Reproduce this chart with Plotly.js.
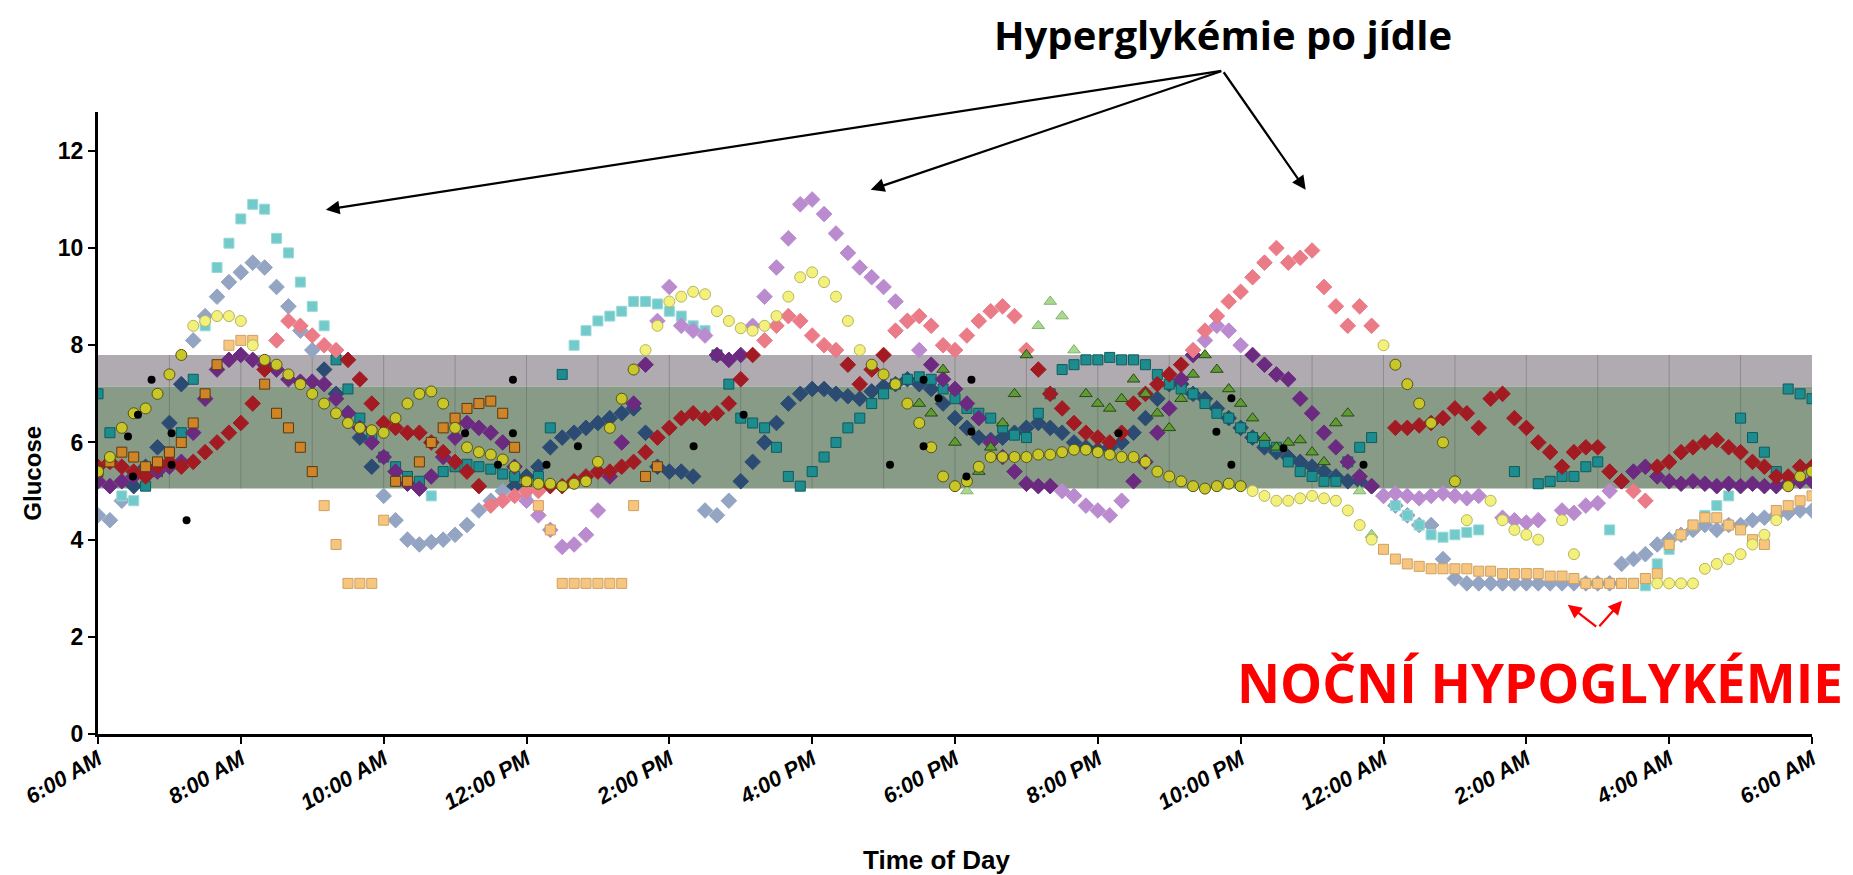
<!DOCTYPE html>
<html>
<head>
<meta charset="utf-8">
<script src="https://cdn.plot.ly/plotly-3.0.1.min.js"></script>
<style>html,body{margin:0;padding:0;background:#fff;}#chart{width:1853px;height:875px;}</style>
</head>
<body>
<div id="chart"></div>
<script>
// ---------- DATA (glucose, mmol/l; one reading every 10 min from 6:00 AM to 6:00 AM) ----------
const tickHours = [6, 8, 10, 12, 14, 16, 18, 20, 22, 24, 26, 28, 30];
const tickLabels = ['6:00 AM','8:00 AM','10:00 AM','12:00 PM','2:00 PM','4:00 PM','6:00 PM','8:00 PM','10:00 PM','12:00 AM','2:00 AM','4:00 AM','6:00 AM'];
const yTicks = [0, 2, 4, 6, 8, 10, 12];
const targetLow = 5.05, targetMid = 7.15, targetHigh = 7.8;

const redDay = [
 5.5,5.6,5.5,5.4,5.3,5.5,  5.6,5.5,5.6,5.8,6.0,6.2,  6.4,6.8,7.5,8.1,8.5,8.4,  8.2,8.0,7.9,7.7,7.3,6.8,
 6.4,6.3,6.2,6.2,6.0,5.8,  5.6,5.4,5.1,4.7,4.8,4.9,  5.0,5.0,5.1,5.1,5.2,5.3,  5.4,5.4,5.5,5.6,5.8,6.1,
 6.3,6.5,6.6,6.5,6.6,6.8,  7.3,7.8,8.1,8.4,8.6,8.5,  8.2,8.0,7.9,7.6,7.2,7.5,  7.8,8.3,8.5,8.6,8.4,8.0,
 7.9,8.2,8.5,8.7,8.8,8.6,  7.9,7.5,7.0,6.7,6.4,6.2,  6.1,6.0,6.2,6.8,7.0,7.2,  7.4,7.6,7.9,8.3,8.6,8.9,
 9.1,9.4,9.7,10.0,9.7,9.8, 9.95,9.2,8.8,8.4,8.8,8.4, null,6.3,6.3,6.35,6.4,6.5, 6.7,6.6,6.3,6.9,7.0,6.5,
 6.3,6.0,5.8,5.5,5.8,5.9,  5.9,5.4,5.2,5.0,4.8,5.5,  5.6,5.8,5.9,6.0,6.05,5.9, 5.8,5.6,5.5,5.3,5.3,5.5,
 5.5];

const purpleDay = [
 5.2,5.1,5.2,5.3,5.4,5.4,  5.5,5.6,6.2,6.9,7.5,7.7,  7.8,7.7,7.6,7.5,7.3,7.25, 7.25,7.2,6.9,6.6,6.3,6.0,
 5.7,5.4,5.15,5.05,5.3,5.7, 6.1,6.4,6.3,6.2,6.0,5.5, 4.8,4.5,4.2,3.85,3.9,4.1, 4.6,5.3,6.0,6.8,7.6,8.5,
 9.2,8.4,8.3,8.2,7.8,7.7,  7.8,8.4,9.0,9.6,10.2,10.9, 11.0,10.7,10.3,9.9,9.6,9.4, 9.2,8.9,8.5,7.9,7.6,7.3,
 7.1,6.8,6.5,6.0,5.7,5.4,  5.15,5.1,5.1,5.0,4.9,4.7, 4.6,4.5,4.8,5.2,5.6,6.2, 6.7,7.3,7.8,8.1,8.4,8.3,
 8.0,7.8,7.6,7.4,7.3,6.9,  6.6,6.2,5.9,5.6,5.3,5.1,  4.9,4.95,4.9,4.85,4.9,4.95, 4.9,4.85,4.9,null,4.45,4.4,
 4.35,4.4,null,4.6,4.55,4.7, 4.75,5.0,5.2,5.4,5.5,5.3, 5.2,5.15,5.2,5.15,5.1,5.15, 5.1,5.15,5.1,5.1,5.15,5.2,
 5.2];

const navyDay = [
 4.5,4.4,4.8,5.1,5.5,5.9,  6.4,7.2,8.1,8.6,9.0,9.3,  9.5,9.7,9.6,9.2,8.8,8.3,  7.9,7.5,7.0,6.6,6.1,5.5,
 4.9,4.4,4.0,3.9,3.95,4.0, 4.1,4.3,4.6,4.8,5.0,5.1,  5.3,5.5,5.9,6.1,6.2,6.3,  6.4,6.5,6.6,6.7,6.2,5.5,
 5.4,5.4,5.3,4.6,4.5,4.8,  5.2,5.6,6.0,6.4,6.8,7.0,  7.1,7.1,7.0,6.95,6.9,7.05, 7.15,7.2,7.3,7.2,7.1,6.8,
 6.5,6.3,6.1,6.05,6.1,6.2, 6.3,6.4,6.3,6.2,6.0,5.9,  5.85,5.9,6.0,6.2,6.5,6.9, 7.2,7.2,7.0,6.9,6.7,6.5,
 6.3,6.1,5.9,5.8,5.7,5.6,  5.5,5.4,5.3,5.2,5.2,5.1,  4.9,4.7,4.5,4.3,4.3,3.6,  3.2,3.1,3.1,3.1,3.1,3.1,
 3.1,3.1,3.1,3.1,3.1,3.1,  3.1,3.1,3.5,3.6,3.7,3.9,  4.0,4.1,4.2,4.3,4.2,4.3,  4.3,4.4,4.45,4.5,4.55,4.6,
 4.6];

const tealDay = [
 7.0,6.2,4.9,4.8,5.1,5.4,  5.8,6.2,7.3,8.4,9.6,10.1, 10.6,10.9,10.8,10.2,9.9,9.3, 8.8,8.4,7.7,7.1,6.5,6.1,
 5.7,5.5,5.3,5.2,4.9,5.4,  5.5,5.55,5.5,5.45,5.35,5.3, 4.9,5.3,6.3,7.4,8.0,8.3, 8.5,8.6,8.7,8.9,8.9,8.85,
 8.7,8.6,8.4,8.3,7.8,7.2,  6.5,6.4,6.3,5.9,5.3,5.1,  5.4,5.7,6.0,6.3,6.5,6.8,  7.0,7.2,7.3,7.35,7.3,7.1,
 6.9,6.7,6.6,6.5,6.3,6.15, 6.1,6.6,7.0,7.5,7.6,7.7,  7.7,7.75,7.7,7.7,7.6,7.4, 7.2,7.1,7.0,6.8,6.6,6.5,
 6.3,6.1,6.0,5.9,5.6,5.4,  5.3,5.2,5.2,5.6,5.9,6.1,  null,4.7,4.5,4.3,4.1,4.05, 4.1,4.15,4.2,null,null,5.4,
 null,5.15,5.2,5.3,5.3,5.5, 5.6,4.2,3.1,3.1,3.05,3.5, 3.8,4.1,4.3,4.5,4.7,4.9, 6.5,6.1,5.8,5.4,7.1,7.0,
 6.9];

const yellowDay = [
 5.4,5.7,6.3,6.6,6.7,7.0,  7.4,7.8,8.4,8.5,8.6,8.6,  8.5,8.0,7.7,7.6,7.4,7.2,  7.0,6.8,6.6,6.4,6.3,6.25,
 6.2,6.5,6.8,7.0,7.05,6.8, 6.3,5.9,5.8,5.75,5.65,5.5, 5.2,5.15,5.15,5.1,5.15,5.2, 5.6,6.3,6.9,7.5,7.9,8.4,
 8.9,9.0,9.1,9.05,8.7,8.5, 8.35,8.3,8.4,8.6,9.0,9.4, 9.5,9.3,9.0,8.5,7.9,7.6,  7.4,7.2,6.8,6.4,5.9,5.3,
 5.1,5.2,5.5,5.7,5.7,5.7,  5.7,5.75,5.75,5.8,5.85,5.85, 5.8,5.75,5.7,5.7,5.6,5.4, 5.3,5.2,5.1,5.05,5.1,5.15,
 5.1,5.0,4.9,4.8,4.8,4.85, 4.9,4.85,4.8,4.6,4.3,4.0, 8.0,7.6,7.2,6.8,6.4,6.0,  5.2,4.4,null,4.8,4.4,4.2,
 4.1,4.0,null,4.4,3.7,null, null,null,null,null,null,3.1, 3.1,3.1,3.1,3.4,3.5,3.6, 3.7,3.9,4.1,4.4,5.1,5.3,
 5.4];

const orangeDay = [
 5.4,5.6,5.8,5.7,5.5,5.6,  5.8,6.0,6.4,7.0,7.6,8.0,  8.1,8.1,7.2,6.6,6.3,5.9,  5.4,4.7,3.9,3.1,3.1,3.1,
 4.4,5.2,5.2,5.6,6.0,6.3,  6.5,6.7,6.8,6.85,6.6,5.9, 5.2,4.7,4.2,3.1,3.1,3.1,  3.1,3.1,3.1,4.7,5.3,5.5,
 null,null,null,null,null,null, null,null,null,null,null,null, null,null,null,null,null,null, null,null,null,null,null,null,
 null,null,null,null,null,null, null,null,null,null,null,null, null,null,null,null,null,null, null,null,null,null,null,null,
 null,null,null,null,null,null, null,null,null,null,null,null, 3.8,3.6,3.5,3.45,3.4,3.4, 3.4,3.4,3.35,3.35,3.3,3.3,
 3.3,3.3,3.25,3.25,3.2,3.1, 3.1,3.1,3.1,3.1,3.2,3.3,  3.9,4.1,4.3,4.45,4.45,4.3, 4.2,4.0,3.9,4.6,4.7,4.8,
 4.9];

const greenDay = [
 null,null,null,null,null,null, null,null,null,null,null,null, null,null,null,null,null,null, null,null,null,null,null,null,
 null,null,null,null,null,null, null,null,null,null,null,null, null,null,null,null,null,null, null,null,null,null,null,null,
 null,null,null,null,null,null, null,null,null,null,null,null, null,null,null,null,null,null, null,null,null,6.8,6.6,7.5,
 6.0,5.0,5.4,5.9,6.4,7.0,  7.8,8.4,8.9,8.6,7.9,7.0,  6.8,6.7,6.9,7.3,7.0,6.6,  6.3,6.9,7.4,7.8,7.5,7.1,
 6.8,6.5,6.1,5.9,6.0,6.05, 5.8,5.6,6.4,6.6,5.0,4.1,  null,null,null,null,null,null, null,null,null,null,null,null,
 null,null,null,null,null,null, null,null,null,null,null,null, null,null,null,null,null,null, null,null,null,null,null,null,
 null];

// finger-stick readings: time of day (hours from midnight, >24 = next morning) and glucose
const meterHours  = [6.42,6.49,6.56,6.75,7.03,7.03,7.24,11.14,11.6,11.81,11.81,12.28,12.72,14.34,15.04,17.09,17.56,17.56,17.77,18.16,18.23,18.23,20.29,21.66,21.87,21.87,22.6,23.72];
const meterValues = [6.12,5.3,6.57,7.29,6.19,5.54,4.4,6.19,5.54,7.29,6.19,5.54,5.92,5.92,6.57,5.54,7.29,5.92,6.91,5.3,7.29,6.22,6.19,6.22,6.91,5.54,5.88,5.54];

// ---------- STYLES ----------
const seriesDefs = [
  {name:'Den 1', data:navyDay,   symbol:'diamond',     size:12, inFill:'#2b4b73', inLine:'#2b4b73', outFill:'#94a5c3', outLine:'#94a5c3'},
  {name:'Den 2', data:tealDay,   symbol:'square',      size:10, inFill:'#1d8c8e', inLine:'#0f5c5e', outFill:'#72caca', outLine:'#9ad8d8'},
  {name:'Den 3', data:purpleDay, symbol:'diamond',     size:12, inFill:'#6b2a80', inLine:'#6b2a80', outFill:'#bb8bd0', outLine:'#bb8bd0'},
  {name:'Den 4', data:redDay,    symbol:'diamond',     size:12, inFill:'#a31b22', inLine:'#a31b22', outFill:'#ea7b87', outLine:'#ea7b87'},
  {name:'Den 5', data:greenDay,  symbol:'triangle-up', size:11, inFill:'#5f9a35', inLine:'#2a4a15', outFill:'#a9d891', outLine:'#84b46e'},
  {name:'Den 6', data:orangeDay, symbol:'square',      size:10, inFill:'#d08428', inLine:'#5a3a10', outFill:'#f6c67f', outLine:'#cfa062'},
  {name:'Den 7', data:yellowDay, symbol:'circle',      size:11, inFill:'#c9c62a', inLine:'#55550e', outFill:'#f3f17c', outLine:'#b6b55e'}
];

const times = [];
for (let i = 0; i < redDay.length; i++) times.push(6 + i / 6);

const inBand = v => v !== null && v >= targetLow && v <= targetHigh;

const traces = seriesDefs.map(s => ({
  type:'scatter', mode:'markers', name:s.name, x:times, y:s.data,
  marker:{symbol:s.symbol, size:s.size,
    color:s.data.map(v => inBand(v) ? s.inFill : s.outFill),
    line:{width:1, color:s.data.map(v => inBand(v) ? s.inLine : s.outLine)}},
  hoverinfo:'x+y'
}));
traces.push({type:'scatter', mode:'markers', name:'Glukometr', x:meterHours, y:meterValues,
  marker:{symbol:'circle', size:8, color:'#000'}});

// ---------- LAYOUT ----------
const shapes = [
  {type:'rect', layer:'below', xref:'x', yref:'y', x0:6, x1:30, y0:targetMid, y1:targetHigh, fillcolor:'#afabb1', line:{width:0}},
  {type:'rect', layer:'below', xref:'x', yref:'y', x0:6, x1:30, y0:targetLow, y1:targetMid, fillcolor:'#879b86', line:{width:0}}
];
for (let h = 7; h < 30; h++) {
  shapes.push({type:'line', layer:'below', xref:'x', yref:'y', x0:h, x1:h, y0:targetLow, y1:targetHigh,
    line:{color:'rgba(80,80,90,0.35)', width:1}});
}

const arrow = (x, y, ax, ay, color, w) => ({x, y, xref:'x', yref:'y', ax, ay, axref:'pixel', ayref:'pixel',
  text:'', showarrow:true, arrowhead:2, arrowsize:1.25, arrowwidth:w, arrowcolor:color});

const annotations = [
  {text:'Hyperglykémie po jídle', xref:'paper', yref:'paper', x:0.6564, y:1.124, xanchor:'center', yanchor:'middle',
   showarrow:false, font:{family:'Open Sans, Noto Sans, sans-serif', size:40, weight:700, color:'#000'}},
  arrow(9.19, 10.79, 897, -139, '#000', 2.2),
  arrow(16.82, 11.2, 352, -119, '#000', 2.2),
  arrow(22.91, 11.2, -83, -119, '#000', 2.2),
  {text:'NOČNÍ HYPOGLYKÉMIE', xref:'paper', yref:'paper', x:0.8415, y:0.082, xanchor:'center', yanchor:'middle',
   showarrow:false, font:{family:'Open Sans, Noto Sans, sans-serif', size:53, weight:700, color:'#ff0000'}},
  arrow(26.58, 2.66, 30, 23, '#ff0000', 2.2),
  arrow(27.34, 2.74, -24, 27, '#ff0000', 2.2),
  {text:'Glucose', xref:'paper', yref:'paper', x:-0.038, y:0.42, xanchor:'center', yanchor:'middle', textangle:-90,
   showarrow:false, font:{family:'Liberation Sans, Arial, sans-serif', size:24, weight:700, color:'#000'}},
  {text:'Time of Day', xref:'paper', yref:'paper', x:0.489, y:-0.2026, xanchor:'center', yanchor:'middle',
   showarrow:false, font:{family:'Liberation Sans, Arial, sans-serif', size:26, weight:700, color:'#000'}}
];

const layout = {
  width:1853, height:875,
  margin:{l:98, r:41, t:112, b:141},
  paper_bgcolor:'#fff', plot_bgcolor:'#fff',
  showlegend:false,
  xaxis:{range:[6,30], tickvals:tickHours, ticktext:tickLabels, tickangle:-30,
    ticks:'outside', ticklen:7, tickwidth:2, tickcolor:'#000', ticklabelstandoff:-6,
    showline:true, linewidth:3, linecolor:'#000', showgrid:false, zeroline:false,
    tickfont:{family:'Liberation Sans, Arial, sans-serif', size:22, weight:700, style:'italic', color:'#000'}},
  yaxis:{range:[0,12.8], tickvals:yTicks, ticks:'outside', ticklen:7, tickwidth:2, tickcolor:'#000',
    showline:true, linewidth:3, linecolor:'#000', showgrid:false, zeroline:false,
    tickfont:{family:'Liberation Sans, Arial, sans-serif', size:23, weight:700, color:'#000'}},
  shapes, annotations
};

Plotly.newPlot('chart', traces, layout, {staticPlot:true, displayModeBar:false});
</script>
</body>
</html>
